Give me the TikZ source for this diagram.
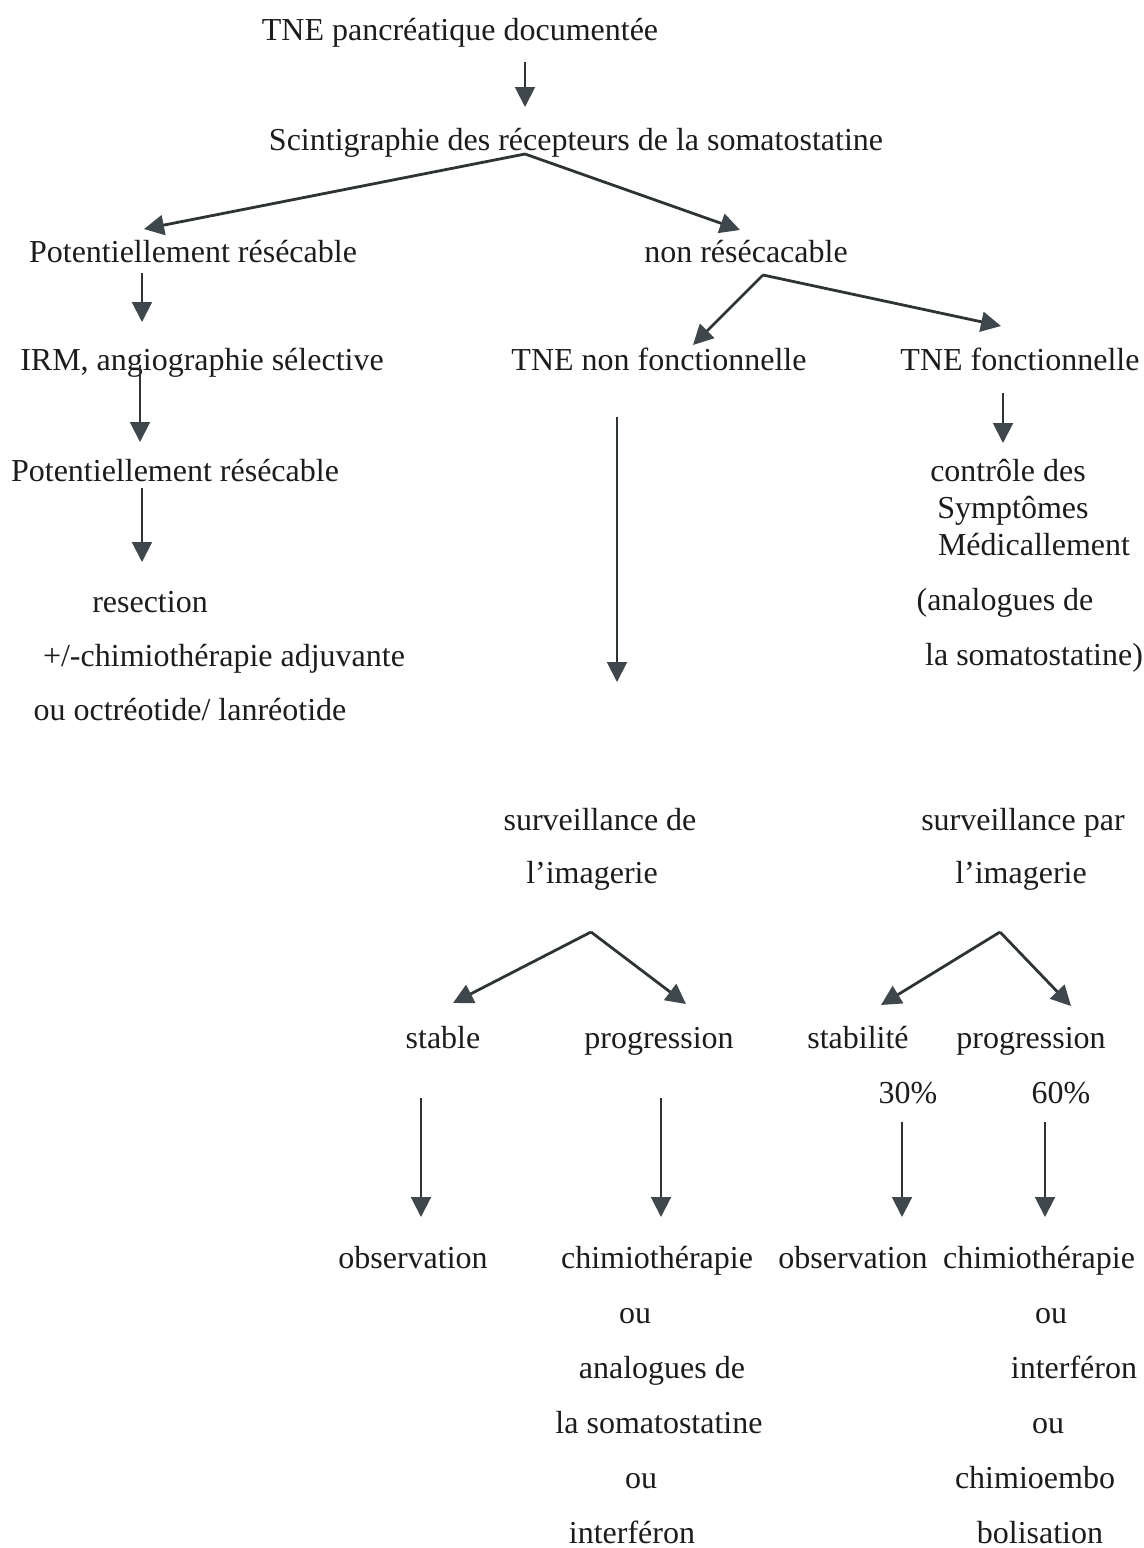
\documentclass[tikz,border=0pt]{standalone}
\usepackage{fontspec}
\setmainfont{Liberation Serif}
\usetikzlibrary{arrows.meta}
\definecolor{ink}{HTML}{1C1C1C}
\definecolor{headc}{HTML}{3E474B}
\definecolor{linec}{HTML}{2E3436}
\begin{document}
\begin{tikzpicture}[x=0.5pt,y=-0.5pt,
  txt/.style={anchor=base,inner sep=0pt,text=ink,font=\fontsize{16}{19}\selectfont},
  arr/.style={draw=linec,line width=1pt,-{Triangle[length=10pt,width=10pt,fill=headc,color=headc]}},
  darr/.style={arr,line width=1.4pt}]
\useasboundingbox (0,0) rectangle (1144,1548);
% --- text nodes
\node[txt] (tne) at (460,40) {TNE pancréatique documentée};
\node[txt] (scint) at (576,150) {Scintigraphie des récepteurs de la somatostatine};
\node[txt] (potA) at (193,262) {Potentiellement résécable};
\node[txt] (nonres) at (746,262) {non résécacable};
\node[txt] (irm) at (202,370) {IRM, angiographie sélective};
\node[txt] (tnenf) at (659,370) {TNE non fonctionnelle};
\node[txt] (tnef) at (1020,370) {TNE fonctionnelle};
\node[txt] (potB) at (175,481) {Potentiellement résécable};
\node[txt] (resec) at (150,612) {resection};
\node[txt] (chadj) at (224,666) {+/-chimiothérapie adjuvante};
\node[txt] (octr) at (190,720) {ou octréotide/ lanréotide};
\node[txt] (ctrl1) at (1008,481) {contrôle des};
\node[txt] (ctrl2) at (1013,518) {Symptômes};
\node[txt] (ctrl3) at (1034,555) {Médicallement};
\node[txt] (ctrl4) at (1005,610) {(analogues de};
\node[txt] (ctrl5) at (1034,665) {la somatostatine)};
\node[txt] (survA1) at (600,830) {surveillance de};
\node[txt] (survA2) at (592,883) {l’imagerie};
\node[txt] (survB1) at (1023,830) {surveillance par};
\node[txt] (survB2) at (1021,883) {l’imagerie};
\node[txt] (stable) at (443,1048) {stable};
\node[txt] (progA) at (659,1048) {progression};
\node[txt] (stabil) at (858,1048) {stabilité};
\node[txt] (progB) at (1031,1048) {progression};
\node[txt] (p30) at (908,1103) {30\%};
\node[txt] (p60) at (1061,1103) {60\%};
\node[txt] (obsA) at (413,1268) {observation};
\node[txt] (chA1) at (657,1268) {chimiothérapie};
\node[txt] (chA2) at (635,1323) {ou};
\node[txt] (chA3) at (662,1378) {analogues de};
\node[txt] (chA4) at (659,1433) {la somatostatine};
\node[txt] (chA5) at (641,1488) {ou};
\node[txt] (chA6) at (632,1543) {interféron};
\node[txt] (obsB) at (853,1268) {observation};
\node[txt] (chB1) at (1039,1268) {chimiothérapie};
\node[txt] (chB2) at (1051,1323) {ou};
\node[txt] (chB3) at (1074,1378) {interféron};
\node[txt] (chB4) at (1048,1433) {ou};
\node[txt] (chB5) at (1035,1488) {chimioembo};
\node[txt] (chB6) at (1040,1543) {bolisation};
% --- connector end points
\coordinate (a1s) at (525,62);   \coordinate (a1e) at (525,107);
\coordinate (a2s) at (525,154);  \coordinate (a2e) at (144,229);
\coordinate (a3e) at (740,230);
\coordinate (a4s) at (142,273);  \coordinate (a4e) at (142,322);
\coordinate (a5s) at (763,275);  \coordinate (a5e) at (693,345);
\coordinate (a6e) at (1001,326);
\coordinate (a7s) at (140,365);  \coordinate (a7e) at (140,442);
\coordinate (a8s) at (142,488);  \coordinate (a8e) at (142,562);
\coordinate (a9s) at (617,417);  \coordinate (a9e) at (617,682);
\coordinate (a10s) at (1003,393); \coordinate (a10e) at (1003,443);
\coordinate (a11s) at (591,932); \coordinate (a11l) at (453,1003); \coordinate (a11r) at (686,1004);
\coordinate (a12s) at (1000,932); \coordinate (a12l) at (881,1005); \coordinate (a12r) at (1071,1006);
\coordinate (a13s) at (421,1098); \coordinate (a13e) at (421,1217);
\coordinate (a14s) at (661,1098); \coordinate (a14e) at (661,1217);
\coordinate (a15s) at (902,1122); \coordinate (a15e) at (902,1217);
\coordinate (a16s) at (1045,1122); \coordinate (a16e) at (1045,1217);
% --- connectors
\draw[arr] (a1s) -- (a1e);
\draw[darr] (a2s) -- (a2e);
\draw[darr] (a2s) -- (a3e);
\draw[arr] (a4s) -- (a4e);
\draw[darr] (a5s) -- (a5e);
\draw[darr] (a5s) -- (a6e);
\draw[arr] (a7s) -- (a7e);
\draw[arr] (a8s) -- (a8e);
\draw[arr] (a9s) -- (a9e);
\draw[arr] (a10s) -- (a10e);
\draw[darr] (a11s) -- (a11l);
\draw[darr] (a11s) -- (a11r);
\draw[darr] (a12s) -- (a12l);
\draw[darr] (a12s) -- (a12r);
\draw[arr] (a13s) -- (a13e);
\draw[arr] (a14s) -- (a14e);
\draw[arr] (a15s) -- (a15e);
\draw[arr] (a16s) -- (a16e);
\end{tikzpicture}
\end{document}
